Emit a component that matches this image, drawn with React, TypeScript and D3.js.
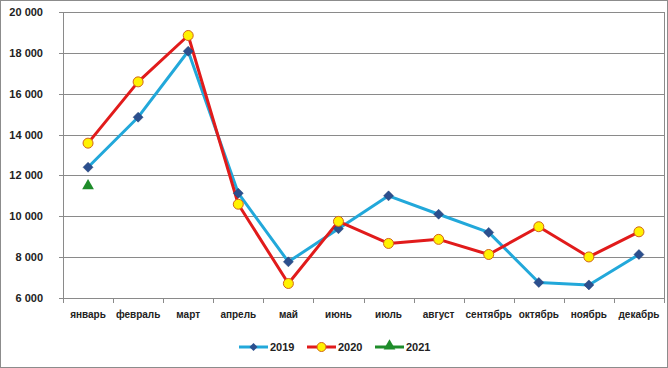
import React from "react";
import * as d3 from "d3";

const months = ["январь","февраль","март","апрель","май","июнь","июль","август","сентябрь","октябрь","ноябрь","декабрь"];
const s2019 = [12400,14850,18080,11130,7770,9390,11000,10100,9210,6760,6640,8130];
const s2020 = [13580,16580,18850,10590,6710,9750,8670,8870,8130,9490,8010,9240];
const s2021 = [11490];
const yTicks = [6000,8000,10000,12000,14000,16000,18000,20000];

const W = 668, H = 368;
const L = 63, R = 664, T = 12, B = 298;

export default function App() {
  const x = d3.scaleBand<string>().domain(months).range([L, R]);
  const y = d3.scaleLinear().domain([6000, 20000]).range([B, T]);
  const cx = (i: number) => (x(months[i]) as number) + x.bandwidth() / 2;
  const line = d3.line<number>().x((_, i) => cx(i)).y((d) => y(d));
  const fmt = (v: number) => d3.format(",")(v).replace(/,/g, " ");
  const diamond = "M0,-5L5,0L0,5L-5,0Z";
  const tri = d3.symbol().type(d3.symbolTriangle).size(60)() as string;
  const font = "'Liberation Sans', Arial, sans-serif";
  const legend = [
    { label: "2019", x: 239, color: "#22A8DA", kind: "d" },
    { label: "2020", x: 307, color: "#E11B1B", kind: "c" },
    { label: "2021", x: 375, color: "#1E8C2A", kind: "t" },
  ];
  return (
    <svg width={W} height={H} style={{ position: "absolute", left: 0, top: 0 }}>
      <rect x={0} y={0} width={W} height={H} fill="#fff" />
      <rect x={0.5} y={0.5} width={W - 1} height={H - 1} fill="none" stroke="#8c8c8c" />
      {yTicks.map((t) => (
        <g key={t}>
          <line x1={L - 4} x2={R} y1={Math.round(y(t)) + 0.5} y2={Math.round(y(t)) + 0.5} stroke="#8a8a8a" />
          <text x={43} y={y(t) + 4} textAnchor="end" fontFamily={font} fontSize={11} fontWeight="bold" fill="#222">{fmt(t)}</text>
        </g>
      ))}
      <line x1={L + 0.5} x2={L + 0.5} y1={T} y2={B} stroke="#8a8a8a" />
      <line x1={R + 0.5} x2={R + 0.5} y1={T} y2={B} stroke="#8a8a8a" />
      {months.map((m, i) => (
        <g key={m}>
          <line x1={Math.round(x(m) as number) + 0.5} x2={Math.round(x(m) as number) + 0.5} y1={B} y2={B + 5} stroke="#8a8a8a" />
          <text x={cx(i)} y={318} textAnchor="middle" fontFamily={font} fontSize={10} fontWeight="bold" fill="#222">{m}</text>
        </g>
      ))}
      <line x1={R + 0.5} x2={R + 0.5} y1={B} y2={B + 5} stroke="#8a8a8a" />
      <path d={line(s2019) as string} fill="none" stroke="#22A8DA" strokeWidth={3} strokeLinejoin="round" />
      <path d={line(s2020) as string} fill="none" stroke="#E11B1B" strokeWidth={3} strokeLinejoin="round" />
      {s2019.map((v, i) => (
        <path key={"a" + i} d={diamond} transform={`translate(${cx(i)},${y(v)})`} fill="#2B4F8E" stroke="#243F73" strokeWidth={0.5} />
      ))}
      {s2020.map((v, i) => (
        <circle key={"b" + i} cx={cx(i)} cy={y(v)} r={5} fill="#FFF200" stroke="#D2621A" strokeWidth={1} />
      ))}
      {s2021.map((v, i) => (
        <path key={"c" + i} d={tri} transform={`translate(${cx(i)},${y(v)})`} fill="#1E8C2A" />
      ))}
      {legend.map((l) => (
        <g key={l.label}>
          <line x1={l.x} x2={l.x + 29} y1={347} y2={347} stroke={l.color} strokeWidth={3} />
          {l.kind === "d" && <path d="M0,-4L4,0L0,4L-4,0Z" transform={`translate(${l.x + 14.5},347)`} fill="#2B4F8E" />}
          {l.kind === "c" && <circle cx={l.x + 14.5} cy={347} r={4.5} fill="#FFF200" stroke="#D2621A" />}
          {l.kind === "t" && <path d={tri} transform={`translate(${l.x + 14.5},346)`} fill="#1E8C2A" />}
          <text x={l.x + 31} y={351} fontFamily={font} fontSize={11} fontWeight="bold" fill="#222">{l.label}</text>
        </g>
      ))}
    </svg>
  );
}
